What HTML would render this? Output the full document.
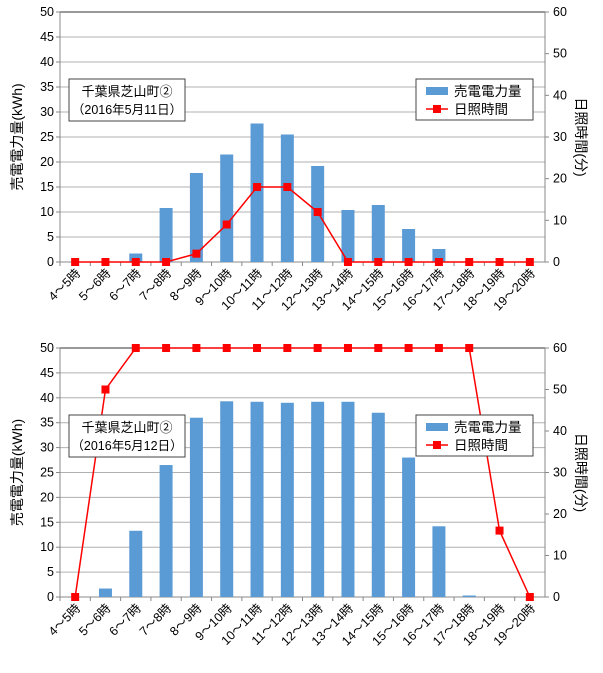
<!DOCTYPE html>
<html><head><meta charset="utf-8">
<style>
body{margin:0;background:#fff;}
svg text{font-family:"Liberation Sans","Noto Sans CJK JP",sans-serif;fill:#000;}
</style></head>
<body>
<svg id="svg" width="603" height="668" viewBox="0 0 603 668" xmlns="http://www.w3.org/2000/svg"></svg>
<script>
const categories=["4～5時","5～6時","6～7時","7～8時","8～9時","9～10時","10～11時","11～12時","12～13時","13～14時","14～15時","15～16時","16～17時","17～18時","18～19時","19～20時"];
const power1=[0,0,1.7,10.8,17.8,21.5,27.7,25.5,19.2,10.4,11.4,6.6,2.6,0,0,0];
const sun1=[0,0,0,0,2,9,18,18,12,0,0,0,0,0,0,0];
const power2=[0,1.7,13.3,26.5,36,39.3,39.2,39,39.2,39.2,37,28,14.2,0.3,0,0];
const sun2=[0,50,60,60,60,60,60,60,60,60,60,60,60,60,16,0];
const leftTicks=[0,5,10,15,20,25,30,35,40,45,50];
const rightTicks=[0,10,20,30,40,50,60];
const titles=["（2016年5月11日）","（2016年5月12日）"];
const NS="http://www.w3.org/2000/svg";
const svg=document.getElementById('svg');
function mk(tag,attrs,parent,txt){const e=document.createElementNS(NS,tag);for(const k in attrs)e.setAttribute(k,attrs[k]);if(txt!==undefined)e.textContent=txt;(parent||svg).appendChild(e);return e;}
function chart(top,bottom,power,sun,dateTitle,idx){
  const g=mk('g',{});
  
  
  const X0=60,X1=545,bw=(X1-X0)/categories.length;
  const yL=v=>bottom-(v/50)*(bottom-top);
  const yR=v=>bottom-(v/60)*(bottom-top);
  const xc=i=>X0+bw*(i+0.5);
  leftTicks.forEach(t=>{
    if(t>0){const l=mk('line',{x1:X0,x2:X1,y1:yL(t),y2:yL(t),stroke:t==50?'#333':'#b0b0b0','stroke-width':1},g);
    }
    mk('line',{x1:X0-4,x2:X0,y1:yL(t),y2:yL(t),stroke:'#888'},g);
    const tx=mk('text',{x:X0-6,y:yL(t)+4,'text-anchor':'end','font-size':12.5},g,t);
    
  });
  rightTicks.forEach(t=>{
    mk('line',{x1:X1,x2:X1+4,y1:yR(t),y2:yR(t),stroke:'#888'},g);
    const tx=mk('text',{x:X1+8,y:yR(t)+4,'font-size':12.5},g,t);
    
  });
  mk('line',{x1:X0,x2:X0,y1:top,y2:bottom,stroke:'#888'},g);
  mk('line',{x1:X1,x2:X1,y1:top,y2:bottom,stroke:'#888'},g);
  mk('line',{x1:X0,x2:X1,y1:bottom,y2:bottom,stroke:'#888'},g);
  categories.forEach((c,i)=>{
    mk('line',{x1:X0+bw*i,x2:X0+bw*i,y1:bottom,y2:bottom+4,stroke:'#888'},g);
    const tx=mk('text',{x:xc(i)+6,y:bottom+12,'text-anchor':'end','font-size':12.5,fill:'#222',transform:`rotate(-45 ${xc(i)+6} ${bottom+12})`},g,c);
    
    const v=power[i];
    if(v>0){const r=mk('rect',{x:xc(i)-6.5,y:yL(v),width:13,height:bottom-yL(v),fill:'#5b9bd5'},g);
    }
  });
  const pts=sun.map((v,i)=>xc(i)+','+yR(v)).join(' ');
  const pl=mk('polyline',{points:pts,fill:'none',stroke:'#ff0000','stroke-width':1.5},g);
  
  sun.forEach((v,i)=>{const m=mk('rect',{x:xc(i)-4,y:yR(v)-4,width:8,height:8,fill:'#ff0000'},g);
    });
  const ym=(top+bottom)/2;
  const lt=mk('text',{x:22,y:ym,'text-anchor':'middle','font-size':14,transform:`rotate(-90 22 ${ym})`},g,'売電電力量(kWh)');
  
  const rt=mk('text',{x:576,y:ym,'text-anchor':'middle','font-size':14,transform:`rotate(90 576 ${ym})`},g,'日照時間(分)');
  
  const by=top+67;
  const tb=mk('g',{},g);
  mk('rect',{x:69,y:by,width:116,height:42,fill:'#fff',stroke:'#444'},tb);
  mk('text',{x:127,y:by+17,'text-anchor':'middle','font-size':13},tb,'千葉県芝山町②');
  mk('text',{x:127,y:by+35,'text-anchor':'middle','font-size':12.5},tb,dateTitle);
  const lg=mk('g',{},g);
  mk('rect',{x:416,y:by,width:117,height:41,fill:'#fff',stroke:'#444'},lg);
  mk('rect',{x:426,y:by+8,width:22,height:8,fill:'#5b9bd5'},lg);
  mk('text',{x:454,y:by+17,'font-size':13.5},lg,'売電電力量');
  mk('line',{x1:426,x2:448,y1:by+30,y2:by+30,stroke:'#f00','stroke-width':1.5},lg);
  mk('rect',{x:433,y:by+26,width:8,height:8,fill:'#f00'},lg);
  mk('text',{x:454,y:by+35,'font-size':13.5},lg,'日照時間');
}
chart(12,262,power1,sun1,titles[0],1);
chart(348,597,power2,sun2,titles[1],2);
</script>
</body></html>
